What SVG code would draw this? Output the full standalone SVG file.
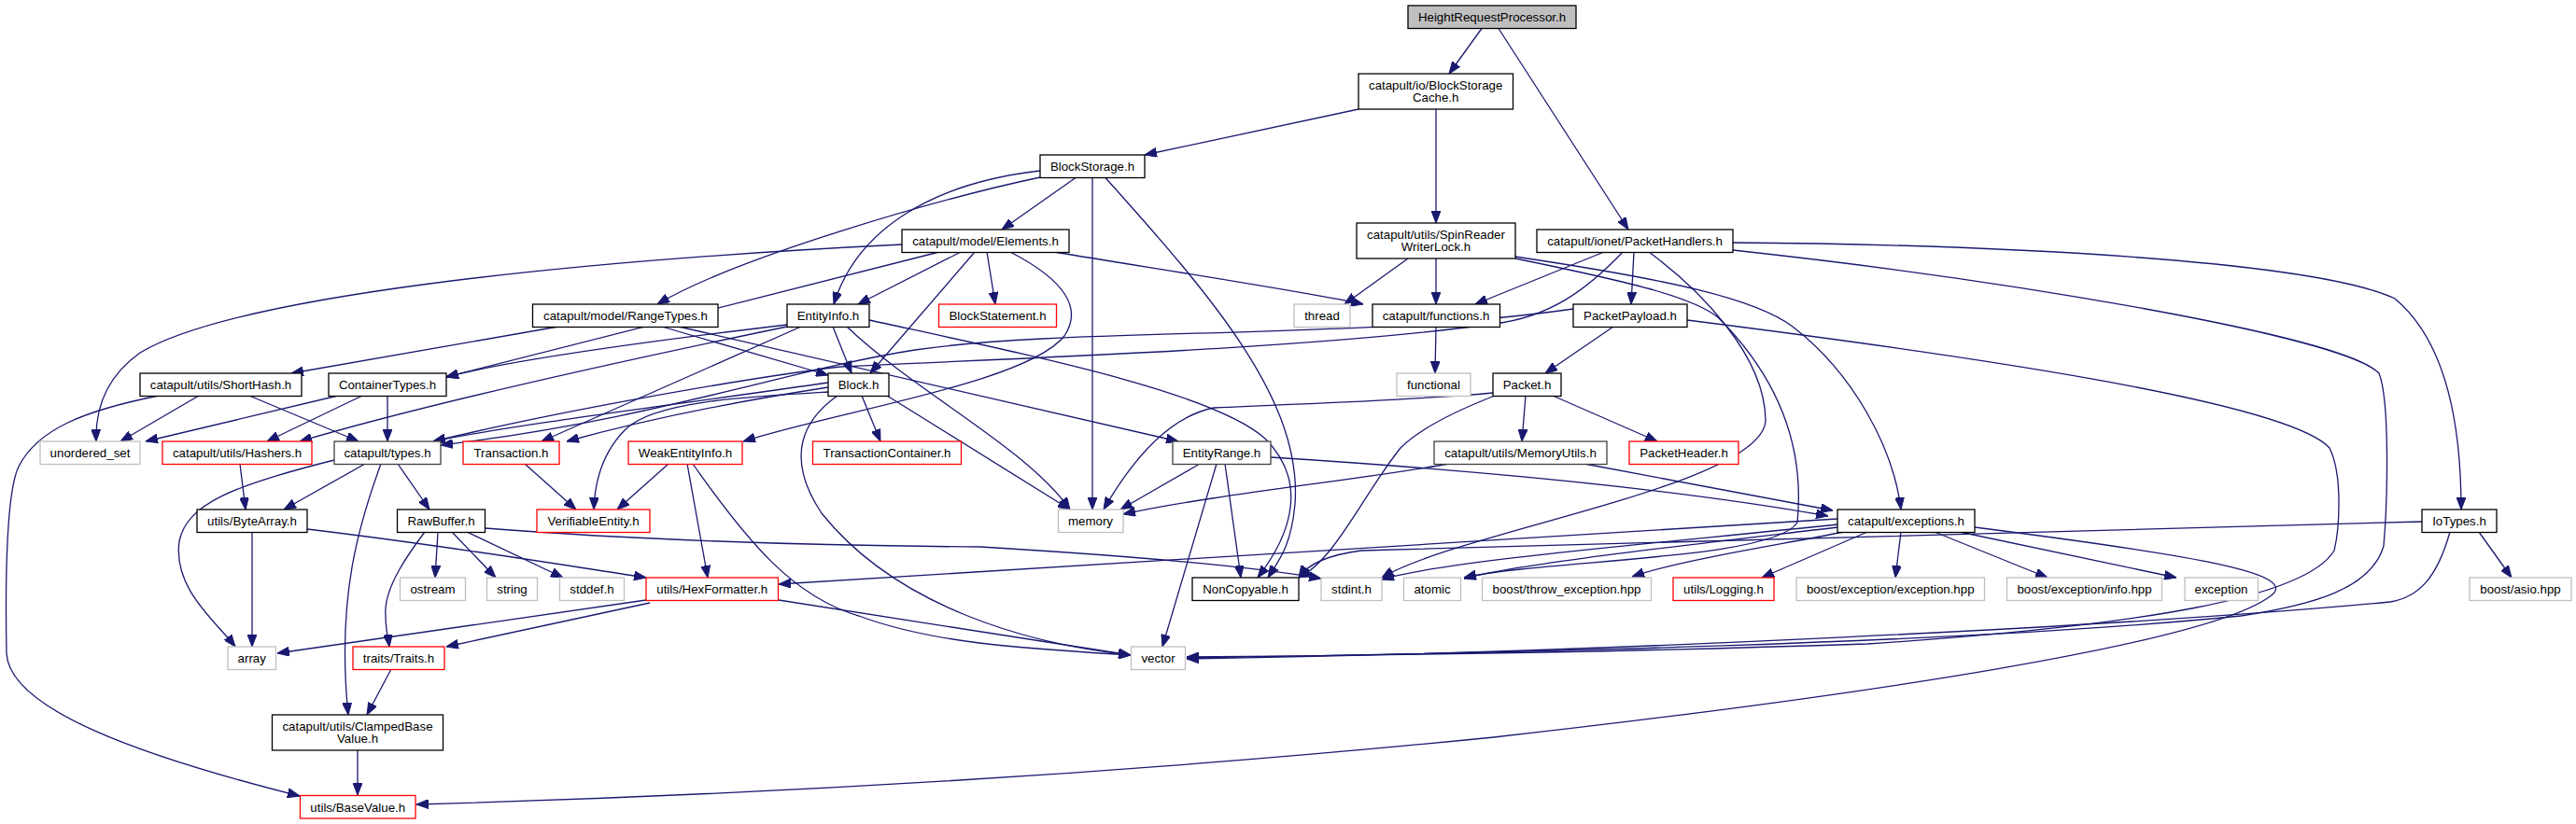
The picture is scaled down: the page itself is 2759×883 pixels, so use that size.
<svg xmlns="http://www.w3.org/2000/svg" width="2759" height="883" viewBox="0 0 2759 883">
<style>
.n rect{fill:#fff;stroke:#000;stroke-width:1.3}
.g rect{stroke:#bfbfbf}
.r rect{stroke:#ff0000}
.d rect{stroke:#404040}
.n text{font-family:"Liberation Sans",Arial,sans-serif;font-size:13.3px;text-anchor:middle;fill:#000}
#edges path{fill:none;stroke:#191970;stroke-width:1.3;marker-end:url(#a)}
</style>
<defs>
<marker id="a" markerWidth="13" markerHeight="10" refX="13" refY="5" orient="auto" markerUnits="userSpaceOnUse" viewBox="0 0 13 10"><path d="M0,0 L13,5 L0,10 z" fill="#191970" stroke="#191970" stroke-width="1"/></marker>
</defs>
<rect width="2759" height="883" fill="#fff"/>
<g id="edges">
<path d="M1587,30.5 L1552,79"/>
<path d="M1605,30.5 L1744,246"/>
<path d="M1455,117 L1226,166"/>
<path d="M1538,117 L1538,239"/>
<path d="M1152,190.5 L1073,246"/>
<path d="M1114,190 C1010,212 790,275 704,326"/>
<path d="M1114,183 C1000,196 918,245 893,326"/>
<path d="M1170,190.5 L1170,546"/>
<path d="M1184,190.5 C1300,320 1395,430 1387,540 C1383,585 1370,600 1358,619"/>
<path d="M1508,277 L1440,326"/>
<path d="M1538,277 L1538,326"/>
<path d="M1623,275 C1790,300 1880,320 1920,350 C1985,400 2028,480 2036,546"/>
<path d="M1623,277 C1760,305 1815,320 1840,340 C1920,420 1931,500 1925,560 C1900,600 1650,600 1568,619"/>
<path d="M1718,270 L1580,326"/>
<path d="M1750,270 L1747,326"/>
<path d="M1738,270 C1700,310 1660,340 1600,347 C1400,375 1050,385 900,393 C800,405 600,440 464,473"/>
<path d="M1766,270 C1820,310 1890,380 1891,450 C1890,520 1560,570 1480,619"/>
<path d="M1856,260 C2150,262 2480,280 2565,320 C2625,370 2636,470 2636,546"/>
<path d="M1856,268 C2150,300 2510,360 2548,400 C2560,430 2557,540 2553,585 C2540,630 2480,648 2400,660 C2100,690 1600,700 1271,705"/>
<path d="M966,262 C600,280 250,318 150,378 C112,405 102,440 103,473"/>
<path d="M1006,270 L478,404"/>
<path d="M1029,270 L919,326"/>
<path d="M1044,270 L932,400"/>
<path d="M1057,270 L1066,326"/>
<path d="M1082,270 C1140,300 1160,330 1140,360 C1100,410 900,440 796,473"/>
<path d="M1129,270 C1250,290 1400,313 1460,326"/>
<path d="M598,350 L312,400"/>
<path d="M709,350 L887,402"/>
<path d="M727,350 L1262,473"/>
<path d="M843,348 C700,365 550,385 478,404"/>
<path d="M843,350 C650,390 450,435 321,473"/>
<path d="M858,350 L580,473"/>
<path d="M892,350 L912,400"/>
<path d="M907,350 C980,420 1100,480 1146,546"/>
<path d="M931,343 C1100,380 1300,420 1355,470 C1400,515 1385,570 1347,619"/>
<path d="M1538,350 L1537,400"/>
<path d="M1728,350 L1655,400"/>
<path d="M1685,331 C1450,365 1150,350 980,375 C850,395 700,450 472,477"/>
<path d="M1807,343 C2100,380 2450,430 2495,480 C2510,510 2505,570 2500,590 C2470,640 2300,670 2000,690 C1700,700 1400,703 1271,704"/>
<path d="M213,424 L129,473"/>
<path d="M267,424 L384,473"/>
<path d="M170,424 C90,440 40,460 20,500 C5,530 6,650 7,700 C10,760 150,810 321,853"/>
<path d="M362,424 L156,473"/>
<path d="M388,424 L286,473"/>
<path d="M415,424 L415,473"/>
<path d="M887,410 C750,430 550,455 464,473"/>
<path d="M887,415 C790,430 690,450 607,473"/>
<path d="M923,424 L943,473"/>
<path d="M887,420 C800,425 700,430 670,460 C645,485 637,515 636,546"/>
<path d="M950,424 L1146,546"/>
<path d="M897,424 C860,450 840,490 880,550 C960,650 1100,690 1211,702"/>
<path d="M1634,424 L1630,473"/>
<path d="M1663,424 L1775,473"/>
<path d="M1599,421 C1500,430 1400,432 1300,437 C1260,445 1220,480 1182,546"/>
<path d="M1601,424 C1560,440 1520,460 1500,480 C1460,530 1430,600 1391,619"/>
<path d="M257,497 L263,546"/>
<path d="M391,497 L304,546"/>
<path d="M426,497 L460,546"/>
<path d="M358,493 C250,520 200,540 192,580 C185,630 230,665 252,693"/>
<path d="M408,497 C385,560 360,640 373,766"/>
<path d="M562,497 L617,546"/>
<path d="M716,497 L661,546"/>
<path d="M736,497 L758,619"/>
<path d="M742,497 C800,580 850,640 920,660 C1000,690 1100,695 1211,702"/>
<path d="M1285,497 L1200,546"/>
<path d="M1312,497 L1329,619"/>
<path d="M1303,497 L1245,693"/>
<path d="M1361,490 C1600,505 1800,525 1958,553"/>
<path d="M1552,497 C1450,515 1300,530 1203,551"/>
<path d="M1697,497 L1963,547"/>
<path d="M270,570 L270,693"/>
<path d="M329,567 C480,585 600,605 692,619"/>
<path d="M469,570 L466,619"/>
<path d="M484,570 L531,619"/>
<path d="M500,570 L603,619"/>
<path d="M455,570 C440,590 410,630 413,660 C413,675 416,685 417,693"/>
<path d="M519.6,566 C700,580 900,585 1050,586 C1200,595 1330,605 1415,620"/>
<path d="M1968,556 L834,626"/>
<path d="M1968,562 C1800,580 1550,600 1480,621"/>
<path d="M1968,565 C1800,585 1620,605 1568,620"/>
<path d="M1975,570 C1900,585 1800,600 1748,618"/>
<path d="M2000,570 L1887,619"/>
<path d="M2036,570 L2030,619"/>
<path d="M2072,570 L2193,619"/>
<path d="M2099,570 L2331,619"/>
<path d="M2115,565 C2350,595 2470,615 2430,640 C2360,690 2000,745 1600,790 C1200,830 800,852 446,862"/>
<path d="M2655,570 L2690,619"/>
<path d="M2624,570 C2610,620 2590,640 2560,645 C2300,670 1700,700 1271,706"/>
<path d="M2594,559 C2300,570 1900,580 1458,590 C1420,595 1400,605 1391,619"/>
<path d="M419,717 L393,766"/>
<path d="M383,804 L383,852"/>
<path d="M692,643 L297,700"/>
<path d="M696,646 L478,693"/>
<path d="M834,643 L1211,702"/>
</g>
<g id="n0" class="n"><rect x="1508" y="6" width="180" height="24.5" style="fill:#bfbfbf"/><text x="1598" y="23.3">HeightRequestProcessor.h</text></g>
<g id="n1" class="n"><rect x="1455" y="79" width="165.5" height="38"/><text x="1537.7" y="96.2">catapult/io/BlockStorage</text><text x="1537.7" y="109.2">Cache.h</text></g>
<g id="n2" class="n"><rect x="1114" y="166" width="112" height="24.5"/><text x="1170" y="183.3">BlockStorage.h</text></g>
<g id="n3" class="n"><rect x="1453" y="239" width="170" height="38"/><text x="1538" y="256.2">catapult/utils/SpinReader</text><text x="1538" y="269.2">WriterLock.h</text></g>
<g id="n4" class="n"><rect x="1646" y="246" width="210" height="24.5"/><text x="1751" y="263.3">catapult/ionet/PacketHandlers.h</text></g>
<g id="n5" class="n"><rect x="966" y="246" width="179" height="24.5"/><text x="1055.5" y="263.3">catapult/model/Elements.h</text></g>
<g id="n6" class="n"><rect x="570.5" y="326" width="198.5" height="24.5"/><text x="670" y="343.3">catapult/model/RangeTypes.h</text></g>
<g id="n7" class="n"><rect x="843" y="326" width="88" height="24.5"/><text x="887" y="343.3">EntityInfo.h</text></g>
<g id="n8" class="n r"><rect x="1005.5" y="326" width="126" height="24.5"/><text x="1068.5" y="343.3">BlockStatement.h</text></g>
<g id="n9" class="n g"><rect x="1386" y="326" width="60" height="24.5"/><text x="1416" y="343.3">thread</text></g>
<g id="n10" class="n"><rect x="1470" y="326" width="136.5" height="24.5"/><text x="1538" y="343.3">catapult/functions.h</text></g>
<g id="n11" class="n"><rect x="1685" y="326" width="122" height="24.5"/><text x="1746" y="343.3">PacketPayload.h</text></g>
<g id="n12" class="n"><rect x="150" y="400" width="173" height="24.5"/><text x="236.5" y="417.3">catapult/utils/ShortHash.h</text></g>
<g id="n13" class="n"><rect x="352" y="400" width="126" height="24.5"/><text x="415" y="417.3">ContainerTypes.h</text></g>
<g id="n14" class="n"><rect x="887" y="400" width="65" height="24.5"/><text x="919.5" y="417.3">Block.h</text></g>
<g id="n15" class="n g"><rect x="1496" y="400" width="79" height="24.5"/><text x="1535.5" y="417.3">functional</text></g>
<g id="n16" class="n"><rect x="1599" y="400" width="73" height="24.5"/><text x="1635.5" y="417.3">Packet.h</text></g>
<g id="n17" class="n g"><rect x="43" y="473" width="107" height="24.5"/><text x="96.5" y="490.3">unordered_set</text></g>
<g id="n18" class="n r"><rect x="174" y="473" width="160" height="24.5"/><text x="254" y="490.3">catapult/utils/Hashers.h</text></g>
<g id="n19" class="n d"><rect x="358" y="473" width="114" height="24.5"/><text x="415" y="490.3">catapult/types.h</text></g>
<g id="n20" class="n r"><rect x="496" y="473" width="103" height="24.5"/><text x="547.5" y="490.3">Transaction.h</text></g>
<g id="n21" class="n r"><rect x="673" y="473" width="122" height="24.5"/><text x="734" y="490.3">WeakEntityInfo.h</text></g>
<g id="n22" class="n r"><rect x="870.5" y="473" width="159" height="24.5"/><text x="950" y="490.3">TransactionContainer.h</text></g>
<g id="n23" class="n d"><rect x="1256" y="473" width="105" height="24.5"/><text x="1308.5" y="490.3">EntityRange.h</text></g>
<g id="n24" class="n d"><rect x="1536" y="473" width="185" height="24.5"/><text x="1628.5" y="490.3">catapult/utils/MemoryUtils.h</text></g>
<g id="n25" class="n r"><rect x="1745" y="473" width="117" height="24.5"/><text x="1803.5" y="490.3">PacketHeader.h</text></g>
<g id="n26" class="n"><rect x="211" y="546" width="118" height="24.5"/><text x="270" y="563.3">utils/ByteArray.h</text></g>
<g id="n27" class="n"><rect x="425.5" y="546" width="94" height="24.5"/><text x="472.5" y="563.3">RawBuffer.h</text></g>
<g id="n28" class="n r"><rect x="575" y="546" width="121" height="24.5"/><text x="635.5" y="563.3">VerifiableEntity.h</text></g>
<g id="n29" class="n g"><rect x="1133.5" y="546" width="69.5" height="24.5"/><text x="1168" y="563.3">memory</text></g>
<g id="n30" class="n"><rect x="1968" y="546" width="147" height="24.5"/><text x="2041.5" y="563.3">catapult/exceptions.h</text></g>
<g id="n31" class="n"><rect x="2594" y="546" width="80" height="24.5"/><text x="2634" y="563.3">IoTypes.h</text></g>
<g id="n32" class="n g"><rect x="428.5" y="619" width="70" height="24.5"/><text x="463.5" y="636.3">ostream</text></g>
<g id="n33" class="n g"><rect x="521.5" y="619" width="54" height="24.5"/><text x="548.5" y="636.3">string</text></g>
<g id="n34" class="n g"><rect x="599.5" y="619" width="69" height="24.5"/><text x="634" y="636.3">stddef.h</text></g>
<g id="n35" class="n r"><rect x="692" y="619" width="141.5" height="24.5"/><text x="762.75" y="636.3">utils/HexFormatter.h</text></g>
<g id="n36" class="n"><rect x="1277" y="619" width="114" height="24.5"/><text x="1334" y="636.3">NonCopyable.h</text></g>
<g id="n37" class="n g"><rect x="1415" y="619" width="65" height="24.5"/><text x="1447.5" y="636.3">stdint.h</text></g>
<g id="n38" class="n g"><rect x="1503.5" y="619" width="61" height="24.5"/><text x="1534" y="636.3">atomic</text></g>
<g id="n39" class="n g"><rect x="1587.5" y="619" width="181" height="24.5"/><text x="1678" y="636.3">boost/throw_exception.hpp</text></g>
<g id="n40" class="n r"><rect x="1792" y="619" width="108" height="24.5"/><text x="1846" y="636.3">utils/Logging.h</text></g>
<g id="n41" class="n g"><rect x="1924" y="619" width="201.5" height="24.5"/><text x="2024.75" y="636.3">boost/exception/exception.hpp</text></g>
<g id="n42" class="n g"><rect x="2149.5" y="619" width="166" height="24.5"/><text x="2232.5" y="636.3">boost/exception/info.hpp</text></g>
<g id="n43" class="n g"><rect x="2340" y="619" width="78.5" height="24.5"/><text x="2379" y="636.3">exception</text></g>
<g id="n44" class="n g"><rect x="2645" y="619" width="109" height="24.5"/><text x="2699.5" y="636.3">boost/asio.hpp</text></g>
<g id="n45" class="n g"><rect x="244" y="693" width="51.5" height="24.5"/><text x="269.75" y="710.3">array</text></g>
<g id="n46" class="n r"><rect x="378" y="693" width="98" height="24.5"/><text x="427" y="710.3">traits/Traits.h</text></g>
<g id="n47" class="n g"><rect x="1211.5" y="693" width="58" height="24.5"/><text x="1240.5" y="710.3">vector</text></g>
<g id="n48" class="n"><rect x="291.5" y="766" width="183" height="38"/><text x="383" y="783.2">catapult/utils/ClampedBase</text><text x="383" y="796.2">Value.h</text></g>
<g id="n49" class="n r"><rect x="321.5" y="852.5" width="123.5" height="24.5"/><text x="383.25" y="869.8">utils/BaseValue.h</text></g>
</svg>
